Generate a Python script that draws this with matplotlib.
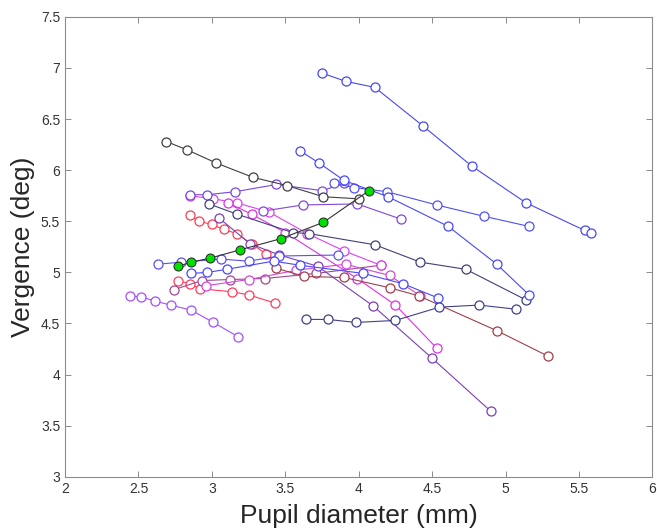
import matplotlib
matplotlib.use("Agg")
import matplotlib.pyplot as plt

plt.rcParams['font.family'] = ['Liberation Sans', 'DejaVu Sans']

# one run per list pair: pupil diameter (mm) vs vergence (deg)
blue_top_x = [3.75, 3.91, 4.11, 4.44, 4.77, 5.14, 5.54, 5.58]
blue_top_y = [6.95, 6.87, 6.81, 6.43, 6.04, 5.68, 5.41, 5.39]

grey_x = [2.69, 2.83, 3.03, 3.28, 3.51, 3.76, 4.00]
grey_y = [6.28, 6.20, 6.07, 5.93, 5.85, 5.74, 5.72]

blue_a_x = [3.60, 3.73, 3.90, 4.20, 4.61, 4.94, 5.16]
blue_a_y = [6.19, 6.07, 5.90, 5.74, 5.45, 5.08, 4.78]

blue_b_x = [3.83, 3.97, 4.19, 4.53, 4.85, 5.16]
blue_b_y = [5.87, 5.83, 5.79, 5.66, 5.55, 5.45]

purple_top_x = [2.85, 2.97, 3.16, 3.44, 3.75, 3.90]
purple_top_y = [5.76, 5.76, 5.79, 5.86, 5.80, 5.87]

purple_b_x = [3.35, 3.62, 3.99, 4.29]
purple_b_y = [5.60, 5.66, 5.67, 5.52]

navy_a_x = [2.98, 3.17, 3.55, 3.66, 4.11, 4.42, 4.73, 5.14]
navy_a_y = [5.67, 5.57, 5.39, 5.38, 5.27, 5.10, 5.03, 4.73]

navy_b_x = [3.64, 3.79, 3.98, 4.25, 4.55, 4.82, 5.07]
navy_b_y = [4.54, 4.54, 4.51, 4.53, 4.66, 4.68, 4.64]

red_a_x = [2.85, 2.91, 3.00, 3.08, 3.17, 3.27, 3.37]
red_a_y = [5.56, 5.50, 5.47, 5.42, 5.38, 5.28, 5.18]

red_b_x = [2.77, 2.85, 2.92, 3.14, 3.25, 3.43]
red_b_y = [4.92, 4.89, 4.84, 4.81, 4.78, 4.70]

violet_x = [2.44, 2.52, 2.61, 2.72, 2.86, 3.01, 3.18]
violet_y = [4.77, 4.76, 4.72, 4.68, 4.63, 4.51, 4.37]

magenta_a_x = [2.85, 3.01, 3.17, 3.39, 3.65, 3.90, 4.15]
magenta_a_y = [5.75, 5.72, 5.68, 5.59, 5.38, 5.21, 5.07]

magenta_b_x = [3.11, 3.27, 3.50, 3.99, 4.25, 4.53]
magenta_b_y = [5.68, 5.57, 5.39, 4.94, 4.68, 4.26]

purple_c_x = [3.05, 3.26, 3.46, 3.72, 4.10, 4.50, 4.90]
purple_c_y = [5.53, 5.28, 5.17, 5.06, 4.67, 4.16, 3.64]

blue_c_x = [2.63, 2.79, 3.06, 3.25, 3.46, 3.86]
blue_c_y = [5.08, 5.10, 5.13, 5.11, 5.16, 5.17]

blue_d_x = [2.86, 2.97, 3.10, 3.42, 3.60, 4.03, 4.30, 4.54]
blue_d_y = [4.99, 5.00, 5.03, 5.11, 5.07, 4.99, 4.89, 4.75]

dmag_x = [2.74, 2.93, 3.12, 3.36, 3.71, 4.15]
dmag_y = [4.83, 4.92, 4.93, 4.94, 4.99, 5.07]

mag_c_x = [2.96, 3.25, 3.57, 3.91, 4.21, 4.42]
mag_c_y = [4.87, 4.93, 5.02, 5.08, 4.97, 4.77]

brown_x = [3.44, 3.63, 3.90, 4.21, 4.41, 4.94, 5.29]
brown_y = [5.04, 4.96, 4.95, 4.85, 4.77, 4.43, 4.18]

green_x = [2.77, 2.86, 2.99, 3.19, 3.47, 3.76, 4.07]
green_y = [5.06, 5.10, 5.14, 5.22, 5.33, 5.49, 5.80]

runs = [
    (violet_x, violet_y, '#a050ff'),
    (red_b_x, red_b_y, '#ff3c5a'),
    (red_a_x, red_a_y, '#ff3c50'),
    (dmag_x, dmag_y, '#a04890'),
    (mag_c_x, mag_c_y, '#d048d8'),
    (magenta_a_x, magenta_a_y, '#e040f0'),
    (magenta_b_x, magenta_b_y, '#e030e8'),
    (brown_x, brown_y, '#a04048'),
    (purple_c_x, purple_c_y, '#7a40b8'),
    (purple_top_x, purple_top_y, '#7848e0'),
    (purple_b_x, purple_b_y, '#8048d8'),
    (blue_c_x, blue_c_y, '#5a50f0'),
    (blue_d_x, blue_d_y, '#4848ff'),
    (navy_b_x, navy_b_y, '#40408c'),
    (navy_a_x, navy_a_y, '#404078'),
    (blue_b_x, blue_b_y, '#5050f0'),
    (blue_a_x, blue_a_y, '#4848f8'),
    (blue_top_x, blue_top_y, '#4848f0'),
    (grey_x, grey_y, '#404040'),
]

fig = plt.figure(figsize=(6.57, 5.28), dpi=100)
ax = fig.add_axes([0.099, 0.097, 0.894, 0.871])

for xs, ys, c in runs:
    ax.plot(xs, ys, '-o', color=c, lw=0.8, ms=6.5, mfc='white', mec=c, mew=0.9)

ax.plot(green_x, green_y, '-o', color='#333333', lw=0.8, ms=6.5,
        mfc='#00e000', mec='#222222', mew=0.7)

ax.set_xlim(2, 6)
ax.set_ylim(3, 7.5)
ax.set_xticks([2, 2.5, 3, 3.5, 4, 4.5, 5, 5.5, 6])
ax.set_xticklabels(['2', '2.5', '3', '3.5', '4', '4.5', '5', '5.5', '6'])
ax.set_yticks([3, 3.5, 4, 4.5, 5, 5.5, 6, 6.5, 7, 7.5])
ax.set_yticklabels(['3', '3.5', '4', '4.5', '5', '5.5', '6', '6.5', '7', '7.5'])
ax.tick_params(direction='in', length=4, width=0.6, color='#777777',
               labelcolor='#333333', labelsize=10, top=True, right=True)
for s in ax.spines.values():
    s.set_color('#8c8c8c')
    s.set_linewidth(0.8)

ax.set_xlabel('Pupil diameter (mm)', fontsize=19, color='#262626', labelpad=6)
ax.set_ylabel('Vergence (deg)', fontsize=19, color='#262626', labelpad=4)

fig.savefig('out.png', dpi=100)
